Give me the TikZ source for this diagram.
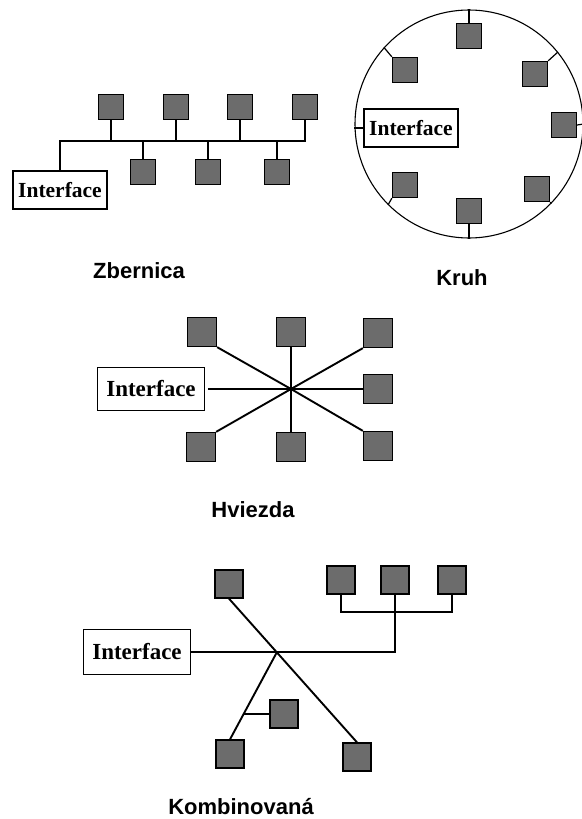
\documentclass[tikz,border=0pt]{standalone}
\usepackage{fontspec}
\setmainfont{Liberation Serif}
\newfontfamily\labfont{Liberation Sans}
\usetikzlibrary{calc}
\definecolor{sqfill}{RGB}{108,108,108}
\tikzset{
  sq/.style={draw=black, fill=sqfill, line width=1.3pt, inner sep=0pt, minimum size=#1},
  sq/.default=25pt,
  iface/.style={draw=black, line width=1.1pt, inner sep=0pt, font=\bfseries\fontsize{21.5}{24}\selectfont},
  lab/.style={font=\labfont\bfseries\fontsize{22}{26}\selectfont},
  wire/.style={line width=1.2pt},
  thick wire/.style={line width=1.9pt}
}
\begin{document}
\begin{tikzpicture}[x=1pt,y=-1pt]
\useasboundingbox[fill=white] (0,0) rectangle (581,819);

% ---------- Zbernica (bus) ----------
\node[sq] (b1) at (111,107) {};
\node[sq] (b2) at (176,107) {};
\node[sq] (b3) at (240,107) {};
\node[sq] (b4) at (305,107) {};
\node[sq] (b5) at (143,172) {};
\node[sq] (b6) at (208,172) {};
\node[sq] (b7) at (277,172) {};
\node[iface, minimum width=94pt, minimum height=38pt] (bi) at (60,190) {Interface};
\coordinate (busR) at (305,141);
\draw[wire] (bi.north) |- (busR) -- (b4.south);
\foreach \n in {b1,b2,b3} \draw[wire] (\n.south) -- (\n.south |- busR);
\foreach \n in {b5,b6,b7} \draw[wire] (\n.north) -- (\n.north |- busR);
\node[lab] (lbus) at (139,271) {Zbernica};

% ---------- Kruh (ring) ----------
\node[circle, draw=black, line width=1.1pt, minimum size=228pt, inner sep=0pt] (ring) at (469,124) {};
\node[sq] (r1) at (469,36) {};
\node[sq] (r2) at (405,70) {};
\node[sq] (r3) at (535,74) {};
\node[sq] (r4) at (564,125) {};
\node[sq] (r5) at (405,185) {};
\node[sq] (r6) at (469,211) {};
\node[sq] (r7) at (537,189) {};
\node[iface, minimum width=94pt, minimum height=38pt] (ri) at (411,128) {Interface};
\draw[wire] (r1.north) -- (ring.north);
\draw[wire] (r2.north west) -- (ring.138);
\draw[wire] (r3.north east) -- (ring.39);
\draw[wire] (r4.east) -- (ring.east);
\draw[wire] (ri.west) -- (ri.west -| ring.west);
\draw[wire] (r5.south west) -- (ring.225);
\draw[wire] (r6.south) -- (ring.south);
\draw[wire] (r7.south east) -- (ring.-44);
\node[lab] (lring) at (462,278) {Kruh};

% ---------- Hviezda (star) ----------
\node[sq=29pt] (s1) at (202,332) {};
\node[sq=29pt] (s2) at (291,332) {};
\node[sq=29pt] (s3) at (378,333) {};
\node[sq=29pt] (s4) at (378,389) {};
\node[sq=29pt] (s5) at (201,447) {};
\node[sq=29pt] (s6) at (291,447) {};
\node[sq=29pt] (s7) at (378,446) {};
\node[iface, minimum width=107pt, minimum height=43pt, font=\bfseries\fontsize{23}{26}\selectfont] (si) at (151,389) {Interface};
\coordinate (shub) at (291,389);
\draw[thick wire] (s1.south east) -- (shub);
\draw[thick wire] (s3.south west) -- (shub);
\draw[thick wire] (s5.north east) -- (shub);
\draw[thick wire] (s7.north west) -- (shub);
\draw[wire] (s2.south) -- (shub);
\draw[wire] (s6.north) -- (shub);
\draw[wire] (s4.west) -- (shub);
\draw[wire] ([xshift=3pt]si.east) -- (shub);
\node[lab] (lstar) at (253,510) {Hviezda};

% ---------- Kombinovaná ----------
\node[sq=28pt] (k1) at (229,584) {};
\node[sq=28pt] (k2) at (341,580) {};
\node[sq=28pt] (k3) at (395,580) {};
\node[sq=28pt] (k4) at (452,580) {};
\node[sq=28pt] (k5) at (357,757) {};
\node[sq=28pt] (k6) at (230,754) {};
\node[sq=28pt] (k7) at (284,714) {};
\node[iface, minimum width=107pt, minimum height=45pt, font=\bfseries\fontsize{23}{26}\selectfont] (ki) at (137,652) {Interface};
\coordinate (khub) at (277,652);
\coordinate (kb) at (395,612);
\draw[wire] (k2.south) |- (kb) -| (k4.south);
\draw[wire] (k3.south) -- (kb) |- (ki.east);
\draw[thick wire] (k1.south) -- (k5.north);
\draw[thick wire] (khub) -- (k6.north);
\coordinate (kj) at ($(khub)!0.7045!(k6.north)$);
\draw[wire] (k7.west) -- (k7.west -| kj);
\node[lab] (lcomb) at (241,807) {Kombinovaná};
\end{tikzpicture}
\end{document}
